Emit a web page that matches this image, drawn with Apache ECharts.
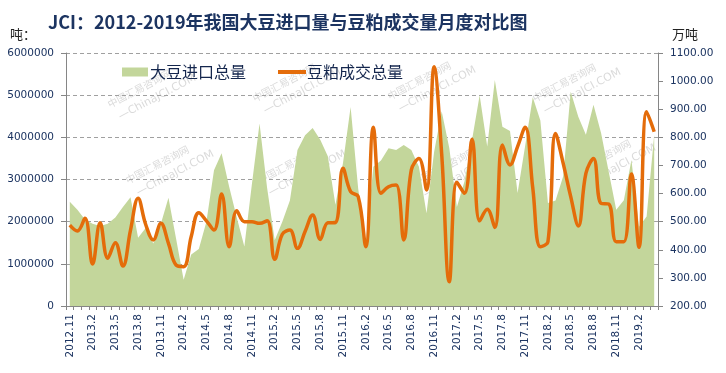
<!DOCTYPE html>
<html><head><meta charset="utf-8">
<script src="https://cdn.jsdelivr.net/npm/echarts@6/dist/echarts.min.js"></script>
<style>html,body{margin:0;padding:0;background:#fff}#c{width:726px;height:373px}</style>
</head><body><div id="c"></div>
<script>
// Months 2012.11 - 2019.4
const categories = [
 '2012.11','2012.12',
 '2013.1','2013.2','2013.3','2013.4','2013.5','2013.6','2013.7','2013.8','2013.9','2013.10','2013.11','2013.12',
 '2014.1','2014.2','2014.3','2014.4','2014.5','2014.6','2014.7','2014.8','2014.9','2014.10','2014.11','2014.12',
 '2015.1','2015.2','2015.3','2015.4','2015.5','2015.6','2015.7','2015.8','2015.9','2015.10','2015.11','2015.12',
 '2016.1','2016.2','2016.3','2016.4','2016.5','2016.6','2016.7','2016.8','2016.9','2016.10','2016.11','2016.12',
 '2017.1','2017.2','2017.3','2017.4','2017.5','2017.6','2017.7','2017.8','2017.9','2017.10','2017.11','2017.12',
 '2018.1','2018.2','2018.3','2018.4','2018.5','2018.6','2018.7','2018.8','2018.9','2018.10','2018.11','2018.12',
 '2019.1','2019.2','2019.3','2019.4'
];
// 大豆进口总量 (吨)
const soyImports = [
 2470000,2280000,
 2050000,1950000,1900000,1950000,2100000,2350000,2580000,1620000,1850000,1480000,1950000,2570000,
 1600000,620000,1220000,1350000,2000000,3220000,3620000,2830000,2100000,1410000,2900000,4330000,
 2800000,1560000,2000000,2500000,3700000,4050000,4220000,3940000,3550000,2400000,3400000,4720000,
 2780000,1500000,3300000,3450000,3740000,3700000,3820000,3700000,3300000,2200000,3650000,4620000,
 3750000,2350000,2950000,3940000,5000000,3780000,5360000,4250000,4150000,2680000,3800000,4950000,
 4400000,2440000,2500000,3070000,5080000,4490000,4060000,4770000,4100000,3190000,2280000,2510000,
 3460000,1880000,2120000,4060000
];
// 豆粕成交总量 (万吨)
const mealTrade = [
 488,467,
 512,349,496,370,425,342,470,583,490,435,494,423,
 346,340,447,532,503,470,598,411,539,500,500,494,
 503,366,455,470,405,465,524,437,496,497,690,607,
 589,411,836,601,624,630,435,684,725,613,1051,740,
 286,640,601,793,503,544,479,773,702,767,836,620,
 411,429,814,708,589,485,672,725,565,563,429,429,
 670,409,891,820
];
const titleText = 'JCI：2012-2019年我国大豆进口量与豆粕成交量月度对比图';
const seriesNames = ['大豆进口总量','豆粕成交总量'];

const navy = '#1c3461';
const font = 'DejaVu Sans';
const cjk = 'Noto Sans CJK SC';

// faint watermark blocks
const wmPos = [[150,92],[295,86],[430,84],[575,86],[168,168],[300,168],[455,170],[610,162]];
const watermarks = wmPos.map(p => ({
  type:'group', x:p[0], y:p[1], rotation: Math.PI/6.5, z:50, silent:true,
  children:[
    {type:'text', x:-8, y:-8, style:{text:'中国汇易咨询网', fontSize:10, fontFamily:cjk, fill:'rgba(150,150,150,0.35)', align:'center', verticalAlign:'middle'}},
    {type:'text', x:4, y:8, style:{text:'—ChinaJCI.COM', fontSize:11, fontFamily:font, fill:'rgba(150,150,150,0.35)', align:'center', verticalAlign:'middle'}}
  ]
}));

const chart = echarts.init(document.getElementById('c'), null, {renderer:'canvas'});
chart.setOption({
  animation:false,
  backgroundColor:'#fff',
  title:{text:titleText, left:43, top:8, textStyle:{fontFamily:cjk, fontSize:18, fontWeight:'bold', color:navy}},
  grid:{left:66, right:68, top:53, bottom:67, containLabel:false},
  legend:[
    {data:[{name:seriesNames[0], icon:'rect'}], left:122, top:64, padding:0, itemWidth:26, itemHeight:9, itemGap:4,
     textStyle:{fontFamily:cjk, fontSize:16, color:'#14264d', padding:[0,0,0,-3]}},
    {data:[{name:seriesNames[1], icon:'rect'}], left:278, top:64, padding:0, itemWidth:28, itemHeight:4,
     textStyle:{fontFamily:cjk, fontSize:16, color:'#14264d', padding:[0,0,0,-4]}}
  ],
  xAxis:{
    type:'category', data:categories, boundaryGap:true,
    axisLine:{lineStyle:{color:'#868686', width:1}},
    axisTick:{show:true, interval:0, length:4, lineStyle:{color:'#868686'}},
    axisLabel:{interval:2, rotate:90, margin:8, fontFamily:font, fontSize:10.5, color:navy},
    splitLine:{show:false}
  },
  yAxis:[
    {type:'value', min:0, max:6000000, interval:1000000, position:'left',
     name:'吨：', nameLocation:'end', nameGap:12,
     nameTextStyle:{fontFamily:cjk, fontSize:13, color:'#222', align:'right', padding:[0,30,0,0]},
     axisLine:{show:true, lineStyle:{color:'#868686'}},
     axisTick:{show:true, length:5, lineStyle:{color:'#868686'}},
     axisLabel:{margin:12, fontFamily:font, fontSize:10.5, color:navy, formatter:v=>String(v)},
     splitLine:{show:true, lineStyle:{color:'#a0a0a0', type:[4,3], width:1}}},
    {type:'value', min:200, max:1100, interval:100, position:'right',
     name:'万吨', nameLocation:'end', nameGap:12,
     nameTextStyle:{fontFamily:cjk, fontSize:13, color:'#222', align:'left', padding:[0,0,0,14]},
     axisLine:{show:true, lineStyle:{color:'#868686'}},
     axisTick:{show:true, length:5, lineStyle:{color:'#868686'}},
     axisLabel:{margin:12, fontFamily:font, fontSize:10.5, color:navy, formatter:v=>v.toFixed(2)},
     splitLine:{show:false}}
  ],
  series:[
    {name:seriesNames[0], type:'line', yAxisIndex:0, data:soyImports, symbol:'none', showSymbol:false,
     lineStyle:{width:0, color:'#C3D69B'}, itemStyle:{color:'#C3D69B'},
     areaStyle:{color:'#C3D69B', opacity:1}, z:1},
    {name:seriesNames[1], type:'line', yAxisIndex:1, data:mealTrade, smooth:0.4, symbol:'none', showSymbol:false,
     lineStyle:{width:3.5, color:'#E46C0A'}, itemStyle:{color:'#E46C0A'}, z:3}
  ],
  graphic: watermarks
});
</script>
</body></html>
